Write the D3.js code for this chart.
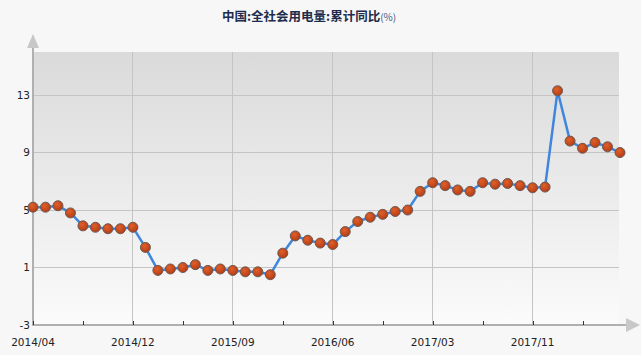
<!DOCTYPE html>
<html>
<head>
<meta charset="utf-8">
<script src="https://cdn.jsdelivr.net/npm/d3@7"></script>
<style>
  html, body { margin: 0; padding: 0; background: #f7f7f7; }
  svg { display: block; }
</style>
</head>
<body>
<svg id="chart" width="641" height="355"></svg>
<script>
const months = [
  "2014/04","2014/05","2014/06","2014/07","2014/08","2014/09","2014/10","2014/11","2014/12",
  "2015/02","2015/03","2015/04","2015/05","2015/06","2015/07","2015/08","2015/09","2015/10","2015/11","2015/12",
  "2016/02","2016/03","2016/04","2016/05","2016/06","2016/07","2016/08","2016/09","2016/10","2016/11","2016/12",
  "2017/02","2017/03","2017/04","2017/05","2017/06","2017/07","2017/08","2017/09","2017/10","2017/11","2017/12",
  "2018/02","2018/03","2018/04","2018/05","2018/06","2018/07"
];
const values = [
  5.2, 5.2, 5.3, 4.8, 3.9, 3.8, 3.7, 3.7, 3.8,
  2.4, 0.8, 0.9, 1.0, 1.2, 0.8, 0.9, 0.8, 0.7, 0.7, 0.5,
  2.0, 3.2, 2.9, 2.7, 2.6, 3.5, 4.2, 4.5, 4.7, 4.9, 5.0,
  6.3, 6.9, 6.7, 6.4, 6.3, 6.9, 6.8, 6.85, 6.7, 6.55, 6.6,
  13.3, 9.8, 9.3, 9.7, 9.4, 9.0
];
const majorTickLabels = ["2014/04","2014/12","2015/09","2016/06","2017/03","2017/11"];
const minorTickMonths = ["2014/08","2015/05","2016/02","2016/10","2017/07","2018/04"];
const yTicks = [-3, 1, 5, 9, 13];
const titleMain = "中国:全社会用电量:累计同比";
const titleUnit = "(%)";

const svg = d3.select("#chart");
const L = 33, R = 619, T = 52, B = 325;

const x = d3.scalePoint().domain(months).range([L, 620]);
const y = d3.scaleLinear().domain([-3, 16]).range([B, T]);

const defs = svg.append("defs");
const bg = defs.append("linearGradient").attr("id", "bg").attr("x1", 0).attr("y1", 0).attr("x2", 0).attr("y2", 1);
bg.append("stop").attr("offset", "0%").attr("stop-color", "#dadada");
bg.append("stop").attr("offset", "100%").attr("stop-color", "#fbfbfb");
const dot = defs.append("radialGradient").attr("id", "dot").attr("cx", "40%").attr("cy", "35%").attr("r", "65%");
dot.append("stop").attr("offset", "0%").attr("stop-color", "#e0602a");
dot.append("stop").attr("offset", "100%").attr("stop-color", "#b53c14");

// plot background
svg.append("rect").attr("x", L).attr("y", T).attr("width", R - L).attr("height", B - T).attr("fill", "url(#bg)");

// horizontal grid
svg.append("g").selectAll("line").data(yTicks.filter(d => d !== -3)).join("line")
  .attr("x1", L).attr("x2", R).attr("y1", d => y(d)).attr("y2", d => y(d))
  .attr("stroke", "#c4c4c4").attr("stroke-width", 1).attr("shape-rendering", "crispEdges");

// vertical grid
svg.append("g").selectAll("line").data(majorTickLabels.slice(1)).join("line")
  .attr("x1", d => x(d)).attr("x2", d => x(d)).attr("y1", T).attr("y2", B)
  .attr("stroke", "#c4c4c4").attr("stroke-width", 1).attr("shape-rendering", "crispEdges");

// axes lines
svg.append("line").attr("x1", L).attr("x2", L).attr("y1", 46).attr("y2", B + 1)
  .attr("stroke", "#b0b0b0").attr("stroke-width", 2);
svg.append("line").attr("x1", L).attr("x2", 627).attr("y1", B).attr("y2", B)
  .attr("stroke", "#b0b0b0").attr("stroke-width", 2);
// arrows
svg.append("path").attr("d", `M${L},34 L${L - 6},48 L${L + 6},48 Z`).attr("fill", "#c8c8c8");
svg.append("path").attr("d", `M640,${B} L626,${B - 7} L626,${B + 7} Z`).attr("fill", "#c8c8c8");

// x ticks (pointing up)
svg.append("g").selectAll("line").data(majorTickLabels.concat(minorTickMonths)).join("line")
  .attr("x1", d => Math.round(x(d)) + 0.5).attr("x2", d => Math.round(x(d)) + 0.5)
  .attr("y1", B - 4).attr("y2", B)
  .attr("stroke", "#333").attr("stroke-width", 1);

// x labels
svg.append("g").selectAll("text").data(majorTickLabels).join("text")
  .attr("x", d => x(d)).attr("y", 346)
  .attr("text-anchor", "middle")
  .attr("font-family", "'DejaVu Sans', sans-serif").attr("font-size", 10.5)
  .attr("fill", "#222").text(d => d);

// y labels
svg.append("g").selectAll("text").data(yTicks).join("text")
  .attr("x", 30).attr("y", d => y(d)).attr("dy", "0.36em")
  .attr("text-anchor", "end")
  .attr("font-family", "'DejaVu Sans', sans-serif").attr("font-size", 10.5)
  .attr("fill", "#222").text(d => d);

// line
const line = d3.line().x((d, i) => x(months[i])).y(d => y(d));
svg.append("path").datum(values).attr("d", line)
  .attr("fill", "none").attr("stroke", "#3f86dc").attr("stroke-width", 2.5).attr("stroke-linejoin", "round");

// points
svg.append("g").selectAll("circle").data(values).join("circle")
  .attr("cx", (d, i) => x(months[i])).attr("cy", d => y(d)).attr("r", 5)
  .attr("fill", "url(#dot)").attr("stroke", "#6a5a55").attr("stroke-width", 1);

// title
const title = svg.append("text").attr("x", 222).attr("y", 21)
  .attr("font-family", "'Noto Sans CJK SC', sans-serif");
title.append("tspan").attr("font-size", 12.5).attr("font-weight", "bold").attr("fill", "#1c2c4c").text(titleMain);
title.append("tspan").attr("font-size", 10).attr("fill", "#4a5a7a").text(titleUnit);
</script>
</body>
</html>
